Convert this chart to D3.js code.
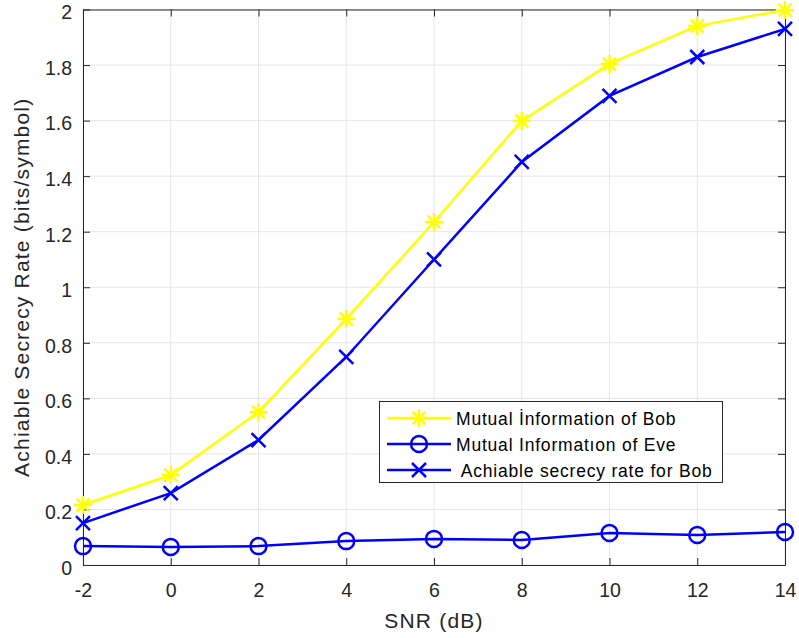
<!DOCTYPE html>
<html>
<head>
<meta charset="utf-8">
<script src="https://cdn.jsdelivr.net/npm/d3@7"></script>
<style>
  body { margin: 0; background: #fff; }
  svg text { font-family: "Liberation Sans", Arial, Helvetica, sans-serif; fill: #262626; }
</style>
</head>
<body>
<svg id="chart" width="799" height="638"></svg>
<script>
const snr = [-2, 0, 2, 4, 6, 8, 10, 12, 14];
const bobInfo = [0.216, 0.324, 0.551, 0.886, 1.235, 1.599, 1.804, 1.941, 1.998];
const eveInfo = [0.068, 0.065, 0.068, 0.086, 0.094, 0.090, 0.115, 0.108, 0.119];
const secrecy = [0.151, 0.259, 0.450, 0.749, 1.100, 1.451, 1.689, 1.829, 1.930];
const xTicks = [-2, 0, 2, 4, 6, 8, 10, 12, 14];
const yTicks = [0, 0.2, 0.4, 0.6, 0.8, 1, 1.2, 1.4, 1.6, 1.8, 2];

const svg = d3.select('#chart');
const pLeft = 83, pRight = 785, pTop = 9.5, pBottom = 565;

const x = d3.scaleLinear().domain([-2, 14]).range([pLeft, pRight]);
const y = d3.scaleLinear().domain([0, 2]).range([pBottom, pTop]);

// grid
svg.append('g').selectAll('line').data(xTicks).join('line')
    .attr('x1', d => x(d)).attr('x2', d => x(d))
    .attr('y1', pTop).attr('y2', pBottom)
    .attr('stroke', '#e6e6e6').attr('stroke-width', 1);
svg.append('g').selectAll('line').data(yTicks).join('line')
    .attr('x1', pLeft).attr('x2', pRight)
    .attr('y1', d => y(d)).attr('y2', d => y(d))
    .attr('stroke', '#e6e6e6').attr('stroke-width', 1);

// axes (ticks inward, box)
const tickLen = 7;
const axisColor = '#262626';
const fmt = d => String(d);

const xb = svg.append('g').attr('transform', `translate(0,${pBottom})`)
    .call(d3.axisBottom(x).tickValues(xTicks).tickSizeInner(-tickLen).tickSizeOuter(0).tickPadding(18).tickFormat(fmt));
const xt = svg.append('g').attr('transform', `translate(0,${pTop})`)
    .call(d3.axisTop(x).tickValues(xTicks).tickSizeInner(-tickLen).tickSizeOuter(0).tickFormat(''));
const yl = svg.append('g').attr('transform', `translate(${pLeft},0)`)
    .call(d3.axisLeft(y).tickValues(yTicks).tickSizeInner(-tickLen).tickSizeOuter(0).tickPadding(11).tickFormat(fmt));
const yr = svg.append('g').attr('transform', `translate(${pRight},0)`)
    .call(d3.axisRight(y).tickValues(yTicks).tickSizeInner(-tickLen).tickSizeOuter(0).tickFormat(''));

[xb, xt, yl, yr].forEach(g => {
    g.select('.domain').attr('stroke', axisColor).attr('stroke-width', 1);
    g.selectAll('.tick line').attr('stroke', axisColor).attr('stroke-width', 1);
    g.selectAll('.tick text').attr('font-size', 19.5).attr('fill', axisColor)
        .style('font-family', '"Liberation Sans", Arial, sans-serif');
});
yl.selectAll('.tick text').attr('dy', '0.48em');

// axis labels
svg.append('text').attr('x', (pLeft + pRight) / 2).attr('y', 628)
    .attr('text-anchor', 'middle').attr('font-size', 21).style('letter-spacing', '1.2px')
    .text('SNR (dB)');
svg.append('text').attr('transform', `translate(29,${(pTop + pBottom) / 2}) rotate(-90)`)
    .attr('text-anchor', 'middle').attr('font-size', 21).style('letter-spacing', '1.2px')
    .text('Achiable Secrecy Rate (bits/symbol)');

// series
const line = d3.line().x(d => x(d[0])).y(d => y(d[1]));
const asterisk = (g, cx, cy, col, r) => {
    [0, 45, 90, 135].forEach(a => {
        const rad = a * Math.PI / 180;
        g.append('line')
            .attr('x1', cx - r * Math.cos(rad)).attr('y1', cy - r * Math.sin(rad))
            .attr('x2', cx + r * Math.cos(rad)).attr('y2', cy + r * Math.sin(rad))
            .attr('stroke', col).attr('stroke-width', 2.5);
    });
};
const cross = (g, cx, cy, col, r) => {
    g.append('path')
        .attr('d', `M${cx - r},${cy - r}L${cx + r},${cy + r}M${cx - r},${cy + r}L${cx + r},${cy - r}`)
        .attr('stroke', col).attr('stroke-width', 2.5).attr('fill', 'none');
};
const circle = (g, cx, cy, col, r) => {
    g.append('circle').attr('cx', cx).attr('cy', cy).attr('r', r)
        .attr('stroke', col).attr('stroke-width', 2.5).attr('fill', 'none');
};

const series = [
    { name: 'Mutual İnformation of Bob', values: bobInfo, color: '#ffff00', marker: asterisk, size: 9 },
    { name: 'Mutual Informatıon of Eve', values: eveInfo, color: '#0000ff', marker: circle, size: 8 },
    { name: ' Achiable secrecy rate for Bob', values: secrecy, color: '#0000ff', marker: cross, size: 7 }
];

series.forEach(s => {
    const pts = snr.map((d, i) => [d, s.values[i]]);
    const g = svg.append('g');
    g.append('path').datum(pts).attr('d', line)
        .attr('fill', 'none').attr('stroke', s.color).attr('stroke-width', 2.5);
    pts.forEach(p => s.marker(g, x(p[0]), y(p[1]), s.color, s.size));
});

// legend
const lg = svg.append('g');
lg.append('rect').attr('x', 379.5).attr('y', 401.5).attr('width', 343).attr('height', 81)
    .attr('fill', '#fff').attr('stroke', axisColor).attr('stroke-width', 1);
series.forEach((s, i) => {
    const ly = 418 + i * 26;
    lg.append('line').attr('x1', 387).attr('x2', 451).attr('y1', ly).attr('y2', ly)
        .attr('stroke', s.color).attr('stroke-width', 2.5);
    s.marker(lg, 419, ly, s.color, s.size);
    lg.append('text').attr('x', 456).attr('y', ly + 6.5).attr('font-size', 17.5)
        .style('fill', '#000').style('white-space', 'pre').style('letter-spacing', '0.8px')
        .text(s.name);
});
</script>
</body>
</html>
